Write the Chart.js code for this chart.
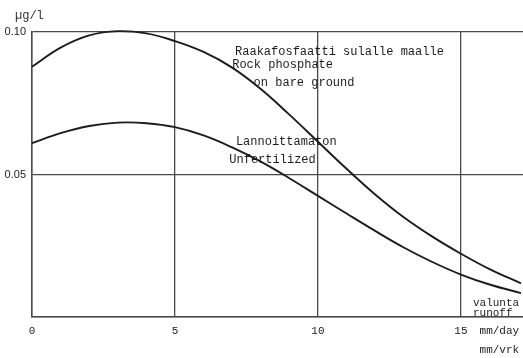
<!DOCTYPE html>
<html>
<head>
<meta charset="utf-8">
<script src="https://cdn.jsdelivr.net/npm/chart.js@4/dist/chart.umd.min.js"></script>
<style>
  html, body { margin: 0; padding: 0; background: #fff; }
  #wrap { width: 523px; height: 358px; }
</style>
</head>
<body>
<div id="wrap"><canvas id="c" width="523" height="358"></canvas></div>
<script>
// Runoff (mm/day) at which concentrations are given
const runoff = [0, 1, 2, 3, 4, 5, 6, 7, 8, 9, 10, 11, 12, 13, 14, 15, 16, 17.1];
// Phosphorus concentration, µg/l
const rockPhosphate = [0.0878, 0.0945, 0.0988, 0.1003, 0.0995, 0.0968, 0.0930, 0.0875, 0.0800, 0.0710, 0.0615, 0.0520, 0.0430, 0.0350, 0.0282, 0.0222, 0.0168, 0.0118];
const unfertilized  = [0.0610, 0.0645, 0.0670, 0.0682, 0.0680, 0.0666, 0.0637, 0.0595, 0.0545, 0.0487, 0.0425, 0.0363, 0.0302, 0.0244, 0.0193, 0.0149, 0.0114, 0.0084];
// Axis ticks
const xTicks = [0, 5, 10, 15];
const yTicks = [0.05, 0.10];

// Curve captions, anchored in data units
const captions = [
  { text: 'Raakafosfaatti sulalle maalle', x: 7.1,  y: 0.0931, size: 12 },
  { text: 'Rock phosphate',               x: 7.0,  y: 0.0884, size: 12 },
  { text: 'on bare ground',               x: 7.75, y: 0.0820, size: 12 },
  { text: 'Lannoittamaton',               x: 7.13, y: 0.0615, size: 12 },
  { text: 'Unfertilized',                 x: 6.9,  y: 0.0551, size: 12 },
  { text: 'valunta',                      x: 15.42, y: 0.0050, size: 11 },
  { text: 'runoff',                       x: 15.42, y: 0.0014, size: 11 }
];

const ink = '#1c1c1c';
const gridInk = '#4a4a4a';
const mono = '"Liberation Mono", "DejaVu Sans Mono", monospace';

const toPoints = (xs, ys) => xs.map((x, i) => ({ x, y: ys[i] }));

const textPlugin = {
  id: 'captions',
  afterDraw(chart) {
    const { ctx, scales: { x, y }, chartArea } = chart;
    ctx.save();
    ctx.fillStyle = ink;
    ctx.textBaseline = 'middle';
    ctx.textAlign = 'left';
    captions.forEach(c => {
      ctx.font = c.size + 'px ' + mono;
      ctx.fillText(c.text, x.getPixelForValue(c.x), y.getPixelForValue(c.y));
    });
    // axis units
    ctx.font = '11px ' + mono;
    ctx.fillText('mm/day', x.getPixelForValue(15.65), chartArea.bottom + 14);
    ctx.fillText('mm/vrk', x.getPixelForValue(15.65), chartArea.bottom + 33);
    ctx.font = '12px ' + mono;
    ctx.fillStyle = '#333';
    ctx.fillText('µg/l', chartArea.left - 17, chartArea.top - 16);
    ctx.restore();
  }
};

new Chart(document.getElementById('c'), {
  type: 'line',
  data: {
    datasets: [
      {
        label: 'Rock phosphate on bare ground',
        data: toPoints(runoff, rockPhosphate),
        borderColor: ink, borderWidth: 1.9, pointRadius: 0,
        tension: 0.4, fill: false, clip: 6
      },
      {
        label: 'Unfertilized',
        data: toPoints(runoff, unfertilized),
        borderColor: ink, borderWidth: 1.9, pointRadius: 0,
        tension: 0.4, fill: false, clip: 6
      }
    ]
  },
  options: {
    responsive: false,
    animation: false,
    events: [],
    layout: { padding: { top: 32, right: 0, left: 0, bottom: 0 } },
    plugins: { legend: { display: false }, tooltip: { enabled: false } },
    scales: {
      x: {
        type: 'linear',
        min: 0,
        max: 17.17,
        afterBuildTicks(axis) { axis.ticks = xTicks.map(v => ({ value: v })); },
        afterFit(axis) { axis.height = 41; },
        border: { display: true, color: gridInk, width: 1.5 },
        grid: { color: gridInk, lineWidth: 1.3, drawTicks: false },
        ticks: {
          padding: 7,
          color: ink,
          font: { family: mono, size: 11 },
          maxRotation: 0,
          callback: v => String(v)
        }
      },
      y: {
        type: 'linear',
        min: 0,
        max: 0.1,
        afterBuildTicks(axis) { axis.ticks = [0].concat(yTicks).map(v => ({ value: v })); },
        afterFit(axis) { axis.width = 32; },
        border: { display: true, color: gridInk, width: 1.5 },
        grid: { color: gridInk, lineWidth: 1.3, drawTicks: false },
        ticks: {
          padding: 6,
          color: '#222',
          font: { family: '"Liberation Sans", Arial, sans-serif', size: 11 },
          callback: v => (v === 0 ? '' : v.toFixed(2))
        }
      }
    }
  },
  plugins: [textPlugin]
});
</script>
</body>
</html>
